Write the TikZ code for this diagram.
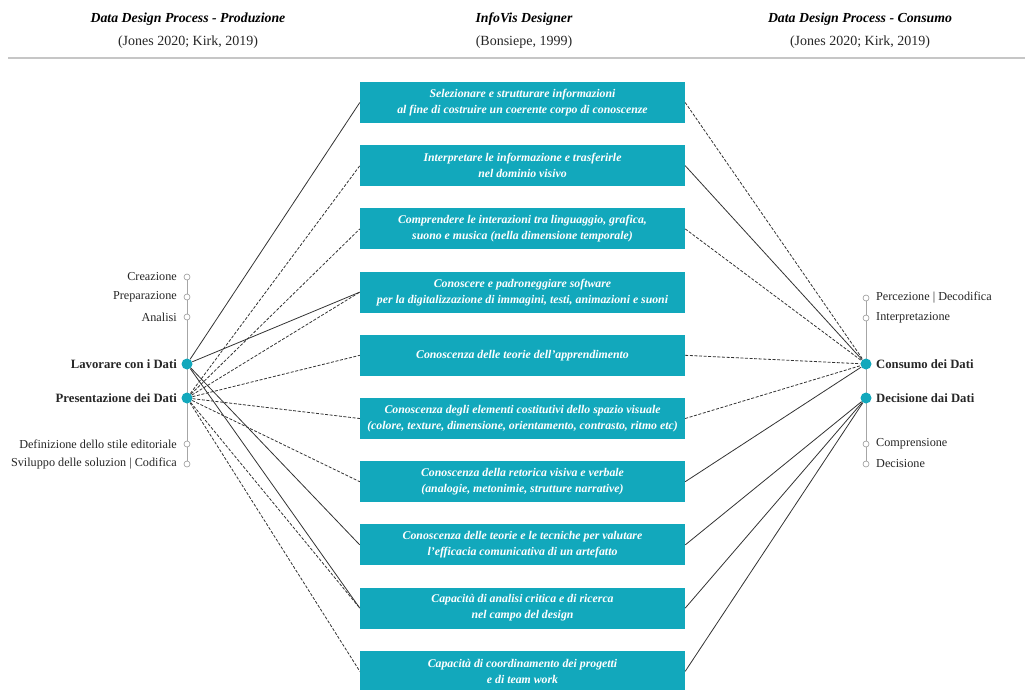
\documentclass[tikz,border=0pt]{standalone}
\usepackage{fontspec}
\setmainfont{Liberation Serif}
\definecolor{tealbox}{HTML}{12A8BC}
\definecolor{lineclr}{HTML}{333333}
\begin{document}
\begin{tikzpicture}[x=1pt,y=-1pt,
  box/.style={fill=tealbox, minimum width=325pt, minimum height=41pt, inner sep=0pt, text=white,
    font=\fontsize{11.8}{16}\selectfont\bfseries\itshape, align=center},
  conn/.style={draw=lineclr, line width=0.8pt},
  dconn/.style={conn, dash pattern=on 3pt off 1.6pt},
  bigdot/.style={circle, fill=tealbox, minimum size=11pt, inner sep=0pt},
  smalldot/.style={circle, draw=gray!80, fill=white, minimum size=6pt, inner sep=0pt, line width=0.6pt},
  spine/.style={draw=gray!70, line width=1pt},
  lab/.style={font=\fontsize{12.2}{14}\selectfont, text=black!85, inner sep=0pt},
  blab/.style={lab, font=\fontsize{12.7}{14}\selectfont\bfseries},
  head/.style={font=\fontsize{13.8}{16}\selectfont\bfseries\itshape, inner sep=0pt},
  citation/.style={font=\fontsize{14}{16}\selectfont, text=black!85, inner sep=0pt}]
\useasboundingbox (0,0) rectangle (1025,689);
\clip (0,0) rectangle (1025,689);

% headers
\node[head] (h1) at (188,19) {Data Design Process - Produzione};
\node[citation] (c1) at (188,42) {(Jones 2020; Kirk, 2019)};
\node[head] (h2) at (524,19) {InfoVis Designer};
\node[citation] (c2) at (524,42) {(Bonsiepe, 1999)};
\node[head] (h3) at (860,19) {Data Design Process - Consumo};
\node[citation] (c3) at (860,42) {(Jones 2020; Kirk, 2019)};
\coordinate (sepL) at (8,58);
\coordinate (sepR) at (1025,58);
\draw[draw=gray!45, line width=1.2pt] (sepL) -- (sepR);

% boxes
\node[box] (b1) at (522.5,102.5) {Selezionare e strutturare informazioni\\al fine di costruire un coerente corpo di conoscenze};
\node[box] (b2) at (522.5,165.7) {Interpretare le informazione e trasferirle\\nel dominio visivo};
\node[box] (b3) at (522.5,228.9) {Comprendere le interazioni tra linguaggio, grafica,\\suono e musica (nella dimensione temporale)};
\node[box] (b4) at (522.5,292.1) {Conoscere e padroneggiare software\\per la digitalizzazione di immagini, testi, animazioni e suoni};
\node[box] (b5) at (522.5,355.3) {Conoscenza delle teorie dell'apprendimento};
\node[box] (b6) at (522.5,418.5) {Conoscenza degli elementi costitutivi dello spazio visuale\\(colore, texture, dimensione, orientamento, contrasto, ritmo etc)};
\node[box] (b7) at (522.5,481.7) {Conoscenza della retorica visiva e verbale\\(analogie, metonimie, strutture narrative)};
\node[box] (b8) at (522.5,544.9) {Conoscenza delle teorie e le tecniche per valutare\\l'efficacia comunicativa di un artefatto};
\node[box] (b9) at (522.5,608.1) {Capacità di analisi critica e di ricerca\\nel campo del design};
\node[box] (b10) at (522.5,671.3) {Capacità di coordinamento dei progetti\\e di team work};

% left spine
\coordinate (ltop) at (187,277);
\coordinate (lbot) at (187,464);
\draw[spine] (ltop) -- (lbot);
\node[smalldot] (l1) at (187,277) {};
\node[smalldot] (l2) at (187,297) {};
\node[smalldot] (l3) at (187,317) {};
\node[smalldot] (l6) at (187,444) {};
\node[smalldot] (l7) at (187,464) {};
\node[lab, anchor=east] at (177,277) {Creazione};
\node[lab, anchor=east] at (177,297) {Preparazione};
\node[lab, anchor=east] at (177,317) {Analisi};
\node[blab, anchor=east] at (177,364) {Lavorare con i Dati};
\node[blab, anchor=east] at (177,398) {Presentazione dei Dati};
\node[lab, anchor=east] at (177,444) {Definizione dello stile editoriale};
\node[lab, anchor=east] at (177,464) {Sviluppo delle soluzion | Codifica};

% right spine
\coordinate (rtop) at (866,298);
\coordinate (rbot) at (866,464);
\draw[spine] (rtop) -- (rbot);
\node[smalldot] (r1) at (866,298) {};
\node[smalldot] (r2) at (866,318) {};
\node[smalldot] (r5) at (866,444) {};
\node[smalldot] (r6) at (866,464) {};
\node[lab, anchor=west] at (876,298) {Percezione | Decodifica};
\node[lab, anchor=west] at (876,318) {Interpretazione};
\node[blab, anchor=west] at (876,364) {Consumo dei Dati};
\node[blab, anchor=west] at (876,398) {Decisione dai Dati};
\node[lab, anchor=west] at (876,444) {Comprensione};
\node[lab, anchor=west] at (876,464) {Decisione};

% big dots
\node[bigdot] (L) at (187,364) {};
\node[bigdot] (P) at (187,398) {};
\node[bigdot] (C) at (866,364) {};
\node[bigdot] (D) at (866,398) {};

% left connectors
\draw[conn] (L) -- (b1.west);
\draw[conn] (L) -- (b4.west);
\draw[conn] (L) -- (b8.west);
\draw[conn] (L) -- (b9.west);
\draw[dconn] (P) -- (b2.west);
\draw[dconn] (P) -- (b3.west);
\draw[dconn] (P) -- (b4.west);
\draw[dconn] (P) -- (b5.west);
\draw[dconn] (P) -- (b6.west);
\draw[dconn] (P) -- (b7.west);
\draw[dconn] (P) -- (b9.west);
\draw[dconn] (P) -- (b10.west);

% right connectors
\draw[dconn] (b1.east) -- (C);
\draw[conn] (b2.east) -- (C);
\draw[dconn] (b3.east) -- (C);
\draw[dconn] (b5.east) -- (C);
\draw[dconn] (b6.east) -- (C);
\draw[conn] (b7.east) -- (C);
\draw[conn] (b8.east) -- (D);
\draw[conn] (b9.east) -- (D);
\draw[conn] (b10.east) -- (D);
\end{tikzpicture}
\end{document}
